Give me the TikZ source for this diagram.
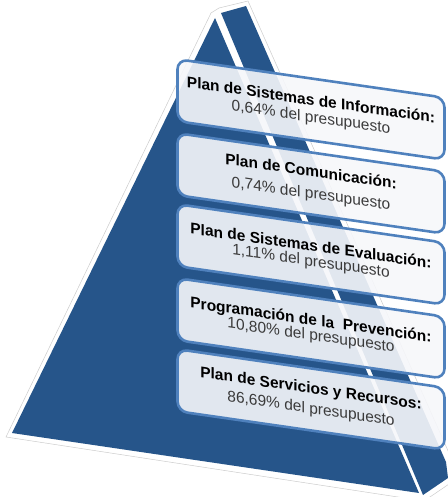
\documentclass[tikz,border=0pt]{standalone}
\usepackage{fontspec}
\setmainfont{Liberation Sans}
\definecolor{pyr}{HTML}{26558A}
\definecolor{bord}{HTML}{4F81BD}
\definecolor{boxfill}{HTML}{F6F7FA}
\definecolor{txttwo}{HTML}{3A3A3A}
\begin{document}
\begin{tikzpicture}[x=1pt,y=-1pt,
  face/.style={fill=pyr},
  box/.style={draw=bord, line width=2.6pt, rounded corners=10pt, fill=boxfill,
    fill opacity=0.9, text opacity=1, minimum width=267pt, minimum height=62pt,
    transform shape, align=center, inner sep=0pt,
    font=\fontsize{15.5}{15}\selectfont},
  sub/.style={}
]
\useasboundingbox (0,0) rectangle (447,497);
% outline halo
\path[fill=white, draw=gray!40, line width=0.5pt] (6,437) -- (211,13) -- (219,8) -- (248,1) -- (453,462) -- (455,480) -- (424,501) -- cycle;
% faces
\fill[face] (215,18) -- (12,433) -- (419,493) -- cycle;
\fill[face] (221,13) -- (246,6) -- (446,462) -- (448,478) -- (423,495) -- cycle;
% boxes
\begin{scope}[shift={(176,58)}, yslant=-0.144]
\node[box] (b1) at (135,32) {\textbf{Plan de Sistemas de Información:}\\[2pt]{\color{txttwo}0,64\% del presupuesto}};
\node[box] (b2) at (135,106) {\textbf{Plan de Comunicación:}\\[7pt]{\color{txttwo}0,74\% del presupuesto}};
\node[box] (b3) at (135,177) {\textbf{Plan de Sistemas de Evaluación:}\\[0pt]{\color{txttwo}1,11\% del presupuesto}};
\node[box] (b4) at (135,251) {\textbf{Programación de la \ Prevención:}\\[0pt]{\color{txttwo}10,80\% del presupuesto}};
\node[box] (b5) at (135,322) {\textbf{Plan de Servicios y Recursos:}\\[5pt]{\color{txttwo}86,69\% del presupuesto}};
\end{scope}
\end{tikzpicture}
\end{document}
